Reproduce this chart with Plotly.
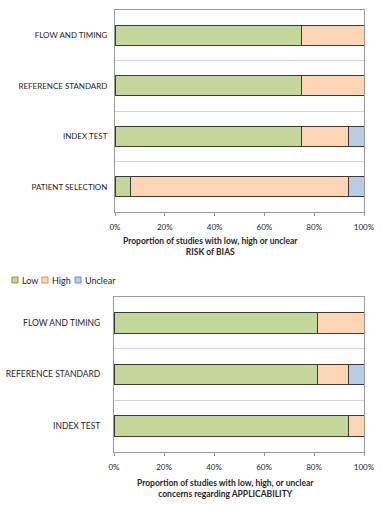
import plotly.graph_objects as go

# ---- data ----
rob_domains = ["PATIENT SELECTION", "INDEX TEST", "REFERENCE STANDARD", "FLOW AND TIMING"]
rob_low = [6.25, 75, 75, 75]
rob_high = [87.5, 18.75, 25, 25]
rob_unclear = [6.25, 6.25, 0, 0]

app_domains = ["INDEX TEST", "REFERENCE STANDARD", "FLOW AND TIMING"]
app_low = [93.75, 81.25, 81.25]
app_high = [6.25, 12.5, 18.75]
app_unclear = [0, 6.25, 0]

x_ticks = [0, 20, 40, 60, 80, 100]
x_ticktext = ["0%", "20%", "40%", "60%", "80%", "100%"]

series_names = ["Low", "High", "Unclear"]
colors = ["#C4D79B", "#FCD5B4", "#B8CCE4"]
legend_edge = ["#7E9A3E", "#D9955C", "#6F8FBF"]

W, H = 383, 505
FONT = "Lato"
TXT = "#262626"

fig = go.Figure()

def add_series(values_list, cats, xa, ya):
    for name, vals, col in zip(series_names, values_list, colors):
        fig.add_trace(go.Bar(
            y=cats, x=vals, name=name, orientation="h",
            marker=dict(color=col, line=dict(color="#3a3a3a", width=1)),
            xaxis=xa, yaxis=ya, showlegend=False,
            hoverinfo="x+y+name",
        ))

add_series([rob_low, rob_high, rob_unclear], rob_domains, "x", "y")
add_series([app_low, app_high, app_unclear], app_domains, "x2", "y2")

def px_x(p):
    return p / W

def px_y(p):
    return 1 - p / H

xcommon = dict(range=[0, 100], tickvals=x_ticks, ticktext=x_ticktext,
               showgrid=False, zeroline=False, showline=True, linecolor="#9a9a9a",
               linewidth=1, mirror=True, ticks="outside", ticklen=3, tickcolor="#9a9a9a",
               ticklabelstandoff=4, fixedrange=True,
               tickfont=dict(family=FONT, size=8, color=TXT))
ycommon = dict(type="category", tickson="boundaries", showgrid=True, gridcolor="#d4d4d4",
               gridwidth=1, showline=True, linecolor="#9a9a9a", linewidth=1, mirror=True,
               ticks="", zeroline=False, fixedrange=True)

# custom compact legend (small outlined squares with labels)
legend_x = [12, 42, 75]
shapes = []
annotations = []
for name, col, edge, lx in zip(series_names, colors, legend_edge, legend_x):
    shapes.append(dict(type="rect", xref="paper", yref="paper",
                       x0=px_x(lx), x1=px_x(lx + 6), y0=px_y(283), y1=px_y(277),
                       fillcolor=col, line=dict(color=edge, width=1)))
    annotations.append(dict(text=name, x=px_x(lx + 8), y=px_y(280), xref="paper", yref="paper",
                            xanchor="left", yanchor="middle", showarrow=False,
                            font=dict(family=FONT, size=9, color=TXT)))

annotations += [
    dict(text="<b>Proportion of studies with low, high or unclear<br>RISK of BIAS</b>",
         x=px_x(210), y=px_y(234), xref="paper", yref="paper", xanchor="center",
         yanchor="top", showarrow=False, font=dict(family=FONT, size=8.5, color=TXT)),
    dict(text="<b>Proportion of studies with low, high, or unclear<br>concerns regarding APPLICABILITY</b>",
         x=px_x(226), y=px_y(476), xref="paper", yref="paper", xanchor="center",
         yanchor="top", showarrow=False, font=dict(family=FONT, size=8.5, color=TXT)),
]

fig.update_layout(
    width=W, height=H,
    margin=dict(l=0, r=0, t=0, b=0, autoexpand=False),
    paper_bgcolor="white", plot_bgcolor="white",
    barmode="stack", bargap=0.6,
    showlegend=False,
    font=dict(family=FONT, color=TXT),
    xaxis=dict(domain=[px_x(115), px_x(364)], anchor="y", **xcommon),
    yaxis=dict(domain=[px_y(212), px_y(10)], anchor="x", ticklabelstandoff=5,
               tickfont=dict(family=FONT, size=8, color=TXT), **ycommon),
    xaxis2=dict(domain=[px_x(114), px_x(364)], anchor="y2", **xcommon),
    yaxis2=dict(domain=[px_y(452), px_y(297)], anchor="x2", ticklabelstandoff=11,
                tickfont=dict(family=FONT, size=8.5, color=TXT), **ycommon),
    shapes=shapes,
    annotations=annotations,
)

fig.write_html(
    "out.html",
    config={"displayModeBar": False},
    post_script="document.body.style.margin='0';document.documentElement.style.overflow='hidden';document.body.style.overflow='hidden';",
)
